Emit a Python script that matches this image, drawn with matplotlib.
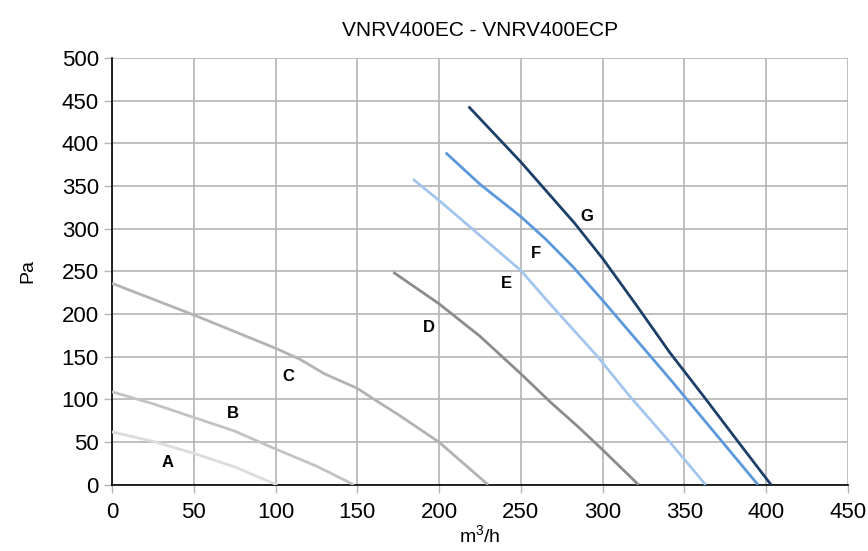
from matplotlib import pyplot as plt

# curve data (m3/h, Pa)
a_x = [0, 25, 50, 75, 101]
a_y = [62, 51, 37, 21, 0]
b_x = [0, 25, 50, 75, 100, 125, 148]
b_y = [109, 95, 79, 63, 42, 22, 0]
c_x = [0, 50, 100, 115, 130, 150, 158, 176, 200, 230]
c_y = [236, 199, 160, 147, 130, 113, 103, 81, 50, 0]
d_x = [172, 200, 225, 250, 268, 285, 300, 322]
d_y = [249, 212, 174, 130, 97, 68, 41, 0]
e_x = [184, 200, 225, 250, 265, 280, 297, 316, 342, 363]
e_y = [358, 333, 292, 251, 218, 186, 150, 105, 48, 0]
f_x = [204, 225, 250, 265, 282, 300, 342, 395]
f_y = [389, 352, 314, 288, 255, 216, 122, 0]
g_x = [218, 250, 283, 300, 320, 341, 362, 383, 403]
g_y = [443, 378, 306, 265, 212, 155, 103, 50, 0]

names = ['A', 'B', 'C', 'D', 'E', 'F', 'G']
label_x = [34, 74, 108, 194, 241, 259, 290]
label_y = [26, 83, 127, 184, 236, 271, 314]
colors = ['#dcdcdc', '#c3c3c3', '#b3b3b3', '#8c8c8c', '#a4c6ec', '#5b98dc', '#1d4068']

curves = [(a_x, a_y), (b_x, b_y), (c_x, c_y), (d_x, d_y),
          (e_x, e_y), (f_x, f_y), (g_x, g_y)]

plt.rcParams['font.family'] = ['Liberation Sans', 'DejaVu Sans']
plt.rcParams['mathtext.fontset'] = 'custom'
plt.rcParams['mathtext.rm'] = 'Liberation Sans'

fig = plt.figure(figsize=(8.68, 5.51), dpi=100)
ax = fig.add_axes([0.129, 0.12, 0.848, 0.775])

for (xs, ys), col in zip(curves, colors):
    ax.plot(xs, ys, color=col, linewidth=2.0, solid_capstyle='butt', zorder=3)

for name, lx, ly in zip(names, label_x, label_y):
    ax.text(lx, ly, name, ha='center', va='center', fontsize=12,
            fontweight='bold', zorder=4)

ax.set_xlim(0, 450)
ax.set_ylim(0, 500)
ax.set_xticks(range(0, 451, 50))
ax.set_yticks(range(0, 501, 50))
ax.grid(True, color='#b4b4b4', linewidth=1.2, zorder=0)
ax.set_axisbelow(True)

ax.spines['top'].set_visible(False)
ax.spines['right'].set_visible(False)
ax.spines['left'].set_color('black')
ax.spines['bottom'].set_color('black')
ax.spines['left'].set_linewidth(1.2)
ax.spines['bottom'].set_linewidth(1.2)
ax.tick_params(axis='both', labelsize=16, color='#b4b4b4', length=6, width=1)
ax.tick_params(axis='x', pad=6)

ax.set_title('VNRV400EC - VNRV400ECP', fontsize=15, pad=16)
ax.set_xlabel('m$\\mathrm{^3}$/h', fontsize=14, labelpad=1)
ax.set_ylabel('Pa', fontsize=14, labelpad=18)

fig.savefig('out.png', dpi=100)
